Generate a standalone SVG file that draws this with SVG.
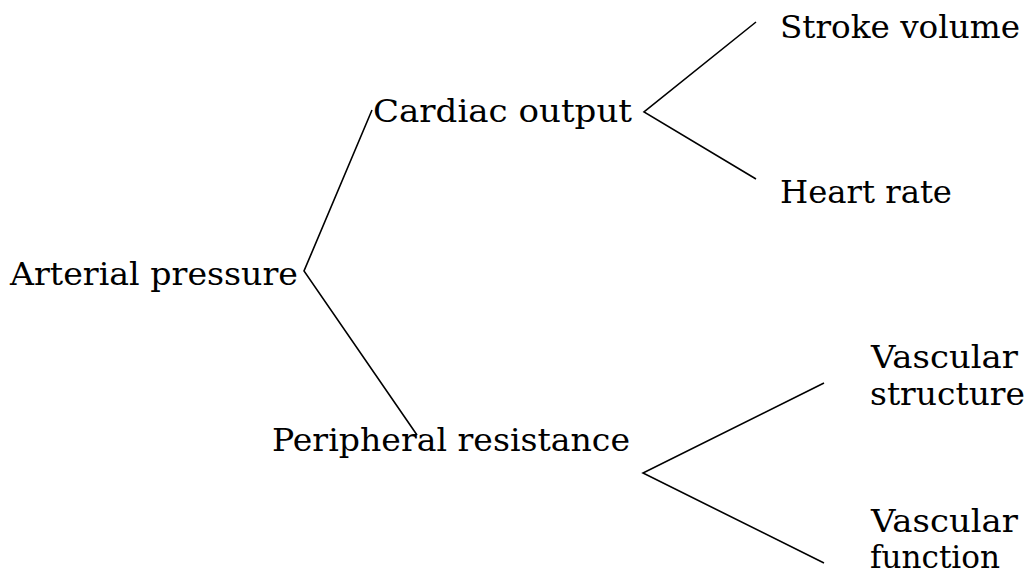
<svg xmlns="http://www.w3.org/2000/svg" width="1034" height="579" viewBox="0 0 1034 579">
<style>
text{font-family:"DejaVu Serif","Liberation Serif",serif;font-size:31px;fill:#000}
.c{fill:none;stroke:#000;stroke-width:1.6}
</style>
<rect width="1034" height="579" fill="#fff"/>
<g id="connectors">
<polyline class="c" points="372,110 304,271 417,435"/>
<polyline class="c" points="756,22 644,112 756,179"/>
<polyline class="c" points="824,383 643,473 824,563"/>
</g>
<g id="arterial"><text x="10" y="285" textLength="288" lengthAdjust="spacingAndGlyphs">Arterial pressure</text></g>
<g id="cardiac"><text x="373" y="122" textLength="259" lengthAdjust="spacingAndGlyphs">Cardiac output</text></g>
<g id="stroke"><text x="780" y="38" textLength="240" lengthAdjust="spacingAndGlyphs">Stroke volume</text></g>
<g id="heart"><text x="780" y="203" textLength="172" lengthAdjust="spacingAndGlyphs">Heart rate</text></g>
<g id="peripheral"><text x="272" y="451" textLength="358" lengthAdjust="spacingAndGlyphs">Peripheral resistance</text></g>
<g id="vstructure"><text x="871" y="368" textLength="147" lengthAdjust="spacingAndGlyphs">Vascular</text><text x="870" y="405" textLength="155" lengthAdjust="spacingAndGlyphs">structure</text></g>
<g id="vfunction"><text x="871" y="532" textLength="147" lengthAdjust="spacingAndGlyphs">Vascular</text><text x="870" y="568" textLength="130" lengthAdjust="spacingAndGlyphs">function</text></g>
</svg>
